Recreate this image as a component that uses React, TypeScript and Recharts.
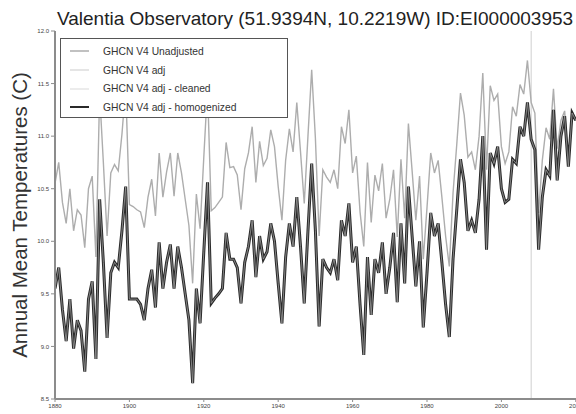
import React from "react";
import {
  LineChart,
  Line,
  XAxis,
  YAxis,
  ReferenceLine,
} from "recharts";

const FIRST_YEAR = 1880;
const X_TICKS = [1880, 1900, 1920, 1940, 1960, 1980, 2000, 2020];
const Y_TICKS = [8.5, 9.0, 9.5, 10.0, 10.5, 11.0, 11.5, 12.0];

// GHCN V4 adj - homogenized, 1880..2020
const HOMOGENIZED = [
  9.55, 9.75, 9.35, 9.05, 9.45, 8.98, 9.25, 9.15, 8.76, 9.45,
  9.62, 8.88, 10.4, 9.8, 9.08, 9.7, 9.8, 9.75, 10.1, 10.52,
  9.45, 9.45, 9.45, 9.4, 9.25, 9.55, 9.73, 9.37, 9.99, 9.55,
  9.8, 9.97, 9.55, 9.95, 9.75, 9.5, 9.25, 8.65, 9.55, 9.22,
  9.9, 10.56, 9.41, 9.46, 9.5, 9.55, 10.08, 9.83, 9.83, 9.75,
  9.41, 9.8, 9.95, 10.2, 9.66, 10.05, 9.83, 9.9, 10.17, 10.0,
  9.6, 9.22, 9.85, 10.17, 9.95, 10.42, 9.95, 9.41, 10.1, 10.74,
  10.1, 9.19, 9.83, 9.75, 9.7, 9.83, 9.63, 10.2, 10.05, 10.36,
  9.8, 9.95, 9.4, 8.92, 9.85, 9.3, 9.83, 9.7, 9.99, 9.5,
  9.75, 10.08, 9.42, 10.17, 9.6, 10.52, 10.05, 9.57, 10.0, 9.18,
  9.7, 10.27, 10.05, 10.17, 9.8, 9.4, 9.09, 9.83, 10.3, 10.78,
  10.56, 10.1, 10.2, 10.08, 10.4, 11.0, 9.92, 10.84, 10.74, 10.9,
  10.5, 10.37, 10.4, 10.78, 10.74, 11.09, 11.0, 11.32, 10.97, 10.87,
  9.92, 10.42, 10.68, 10.62, 11.25, 10.58, 11.0, 11.19, 10.71, 11.22,
  11.15,
];

// GHCN V4 Unadjusted, 1880..2020
const UNADJUSTED = [
  10.55, 10.75, 10.37, 10.17, 10.5, 10.1, 10.3, 10.25, 9.94, 10.5,
  10.62, 9.85, 11.4, 10.75, 10.05, 10.65, 10.73, 10.67, 11.02, 11.47,
  10.35, 10.33, 10.3, 10.28, 10.13, 10.42, 10.59, 10.24, 10.84, 10.42,
  10.66, 10.84, 10.43, 10.84, 10.65, 10.4, 10.15, 9.6, 10.45, 10.12,
  10.8, 11.46, 10.29, 10.32, 10.37, 10.42, 10.94, 10.7, 10.71, 10.63,
  10.3, 10.69, 10.84, 11.09, 10.56, 10.95, 10.72, 10.79, 11.06, 10.9,
  10.52, 10.2, 10.77, 11.07, 10.85, 11.32, 10.85, 10.36, 11.0, 11.63,
  10.98, 10.05, 10.68, 10.61, 10.56, 10.68, 10.5, 11.09, 10.93, 11.25,
  10.65, 10.81, 10.28, 9.95, 10.75, 10.18, 10.63, 10.48, 10.74, 10.22,
  10.4, 10.68, 10.04, 10.78, 10.22, 11.12, 10.67, 10.2, 10.62, 9.83,
  10.32, 10.84, 10.65, 10.77, 10.42, 10.05, 9.76, 10.46, 10.92, 11.41,
  11.2, 10.8, 10.85, 10.68, 11.0, 11.6, 10.68, 11.48, 11.34, 11.4,
  10.9, 10.74, 10.85, 11.28, 11.19, 11.49, 11.4, 11.72, 11.32, 11.22,
  10.27, 10.77, 11.08, 10.97, 11.45, 10.88, 11.15, 11.24, 10.76, 11.24,
  11.15,
];

// the adjusted and cleaned series sit on the homogenized one in the picture
const ADJUSTED = HOMOGENIZED;
const CLEANED = HOMOGENIZED;

const MARKER_YEAR = 2008;

const SERIES = [
  { key: "unadj", name: "GHCN V4 Unadjusted", color: "#adadad" },
  { key: "adj", name: "GHCN V4 adj", color: "#dcdcdc" },
  { key: "cleaned", name: "GHCN V4 adj - cleaned", color: "#e6e6e6" },
  { key: "homog", name: "GHCN V4 adj - homogenized", color: "#2a2a2a" },
];

const data = HOMOGENIZED.map((h, i) => ({
  year: FIRST_YEAR + i,
  unadj: UNADJUSTED[i],
  adj: ADJUSTED[i],
  cleaned: CLEANED[i],
  homog: h,
}));

const FONT = '"Liberation Sans", Arial, Helvetica, sans-serif';

function LegendBox() {
  return (
    <div
      style={{
        position: "absolute",
        left: 60,
        top: 38,
        border: "1.5px solid #555",
        background: "#fff",
        width: 228,
        height: 80,
        boxSizing: "border-box",
        padding: "3px 0 0 9px",
        fontFamily: FONT,
        zIndex: 2,
      }}
    >
      {SERIES.map((s) => (
        <div key={s.key} style={{ display: "flex", alignItems: "center", height: 18.7 }}>
          <svg width={20} height={6} style={{ marginRight: 13 }}>
            <line x1={0} y1={3} x2={19} y2={3} stroke={s.color} strokeWidth={s.key === "homog" ? 2 : 1.5} />
          </svg>
          <span style={{ fontSize: 10.3, color: "#333" }}>{s.name}</span>
        </div>
      ))}
    </div>
  );
}

export default function App() {
  return (
    <div
      style={{
        position: "absolute",
        left: 0,
        top: 0,
        width: 576,
        height: 414,
        overflow: "hidden",
        background: "#fff",
        fontFamily: FONT,
      }}
    >
      <div
        style={{
          position: "absolute",
          left: 57,
          top: 8,
          fontSize: 19,
          color: "#222",
          whiteSpace: "nowrap",
          zIndex: 2,
        }}
      >
        Valentia Observatory (51.9394N, 10.2219W) ID:EI000003953
      </div>
      <LineChart
        width={620}
        height={414}
        data={data}
        margin={{ top: 31, right: 7, bottom: 0, left: 0 }}
      >
        <XAxis
          dataKey="year"
          type="number"
          domain={[1880, 2030]}
          ticks={X_TICKS}
          allowDataOverflow
          height={15}
          tick={{ fontSize: 6, fill: "#444" }}
          tickSize={3}
          tickMargin={2}
          axisLine={{ stroke: "#8c8c8c", strokeWidth: 2 }}
          tickLine={{ stroke: "#8c8c8c" }}
        />
        <YAxis
          domain={[8.5, 12]}
          ticks={Y_TICKS}
          width={55}
          tick={{ fontSize: 6, fill: "#444" }}
          tickFormatter={(v: number) => v.toFixed(1)}
          tickSize={4}
          tickMargin={2}
          axisLine={{ stroke: "#8c8c8c", strokeWidth: 2 }}
          tickLine={{ stroke: "#8c8c8c" }}
          label={(props: any) => {
            const vb = props.viewBox || { y: 31, height: 368 };
            const cy = vb.y + vb.height / 2;
            return (
              <text
                x={19}
                y={cy}
                transform={`rotate(-90 19 ${cy})`}
                textAnchor="middle"
                dominantBaseline="central"
                fontSize={20.5}
                fill="#333"
                fontFamily={FONT}
              >
                Annual Mean Temperatures (C)
              </text>
            );
          }}
        />
        <ReferenceLine x={MARKER_YEAR} stroke="#cfcfcf" strokeWidth={1} />
        <Line
          dataKey="unadj"
          name={SERIES[0].name}
          stroke={SERIES[0].color}
          strokeWidth={1.4}
          dot={false}
          type="linear"
          isAnimationActive={false}
        />
        <Line
          dataKey="adj"
          name={SERIES[1].name}
          stroke={SERIES[1].color}
          strokeWidth={1.4}
          dot={false}
          type="linear"
          isAnimationActive={false}
        />
        <Line
          dataKey="homog"
          name={SERIES[3].name}
          stroke={SERIES[3].color}
          strokeWidth={3}
          dot={false}
          type="linear"
          isAnimationActive={false}
        />
        <Line
          dataKey="cleaned"
          name={SERIES[2].name}
          stroke="#9a9a9a"
          strokeWidth={0.8}
          dot={false}
          type="linear"
          isAnimationActive={false}
        />
      </LineChart>
      <LegendBox />
    </div>
  );
}
